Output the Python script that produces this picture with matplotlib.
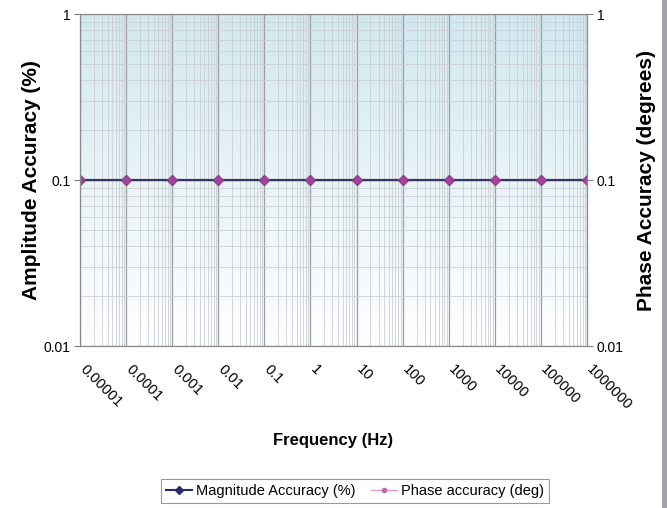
import numpy as np
import matplotlib.pyplot as plt
import matplotlib.transforms as mtransforms
from matplotlib.patches import Rectangle
from matplotlib.lines import Line2D
from matplotlib.ticker import LogLocator, NullFormatter

plt.rcParams['font.family'] = ['Liberation Sans', 'DejaVu Sans']

# data
freq = [1e-5, 1e-4, 1e-3, 1e-2, 1e-1, 1, 10, 100, 1000, 10000, 100000, 1000000]
freq_labels = ['0.00001', '0.0001', '0.001', '0.01', '0.1', '1', '10', '100',
               '1000', '10000', '100000', '1000000']
magnitude_acc = [0.1] * 12
phase_acc = [0.1] * 12

fig = plt.figure(figsize=(6.67, 5.08), dpi=100)
fig.patch.set_facecolor('white')
ax = fig.add_axes([80/667, 1 - 346/508, 507/667, 332/508])

# light blue -> white background gradient
grad = np.linspace(0, 1, 256).reshape(-1, 1)
top = np.array([0.82, 0.91, 0.94])
bot = np.array([1.0, 1.0, 1.0])
img = top[None, None, :] * (1 - grad[:, :, None]) + bot[None, None, :] * grad[:, :, None]
ax.imshow(img, extent=[0, 1, 0, 1], transform=ax.transAxes, aspect='auto', zorder=0)

ax.set_xscale('log')
ax.set_yscale('log')
ax.set_xlim(1e-5, 1e6)
ax.set_ylim(0.01, 1)

ax.xaxis.set_minor_locator(LogLocator(base=10, subs=np.arange(2, 10), numticks=200))
ax.xaxis.set_minor_formatter(NullFormatter())
ax.yaxis.set_minor_locator(LogLocator(base=10, subs=np.arange(2, 10), numticks=200))
ax.yaxis.set_minor_formatter(NullFormatter())

ax.grid(True, which='major', color='#9a9ea4', linewidth=0.9, zorder=1)
ax.grid(True, which='minor', color='#cbcfd4', linewidth=0.6, zorder=1)

ax.plot(freq, phase_acc, color='#d488bb', linewidth=1.0, zorder=3)
ax.plot(freq, magnitude_acc, color='#3a3560', linewidth=1.6, marker='D',
        markersize=5, markerfacecolor='#8a3c8c', markeredgecolor='#8a3c8c',
        label='Magnitude Accuracy (%)', zorder=4)
ax.plot(freq, phase_acc, color='#d488bb', linewidth=0, marker='o', markersize=4,
        markerfacecolor='#a0449c', markeredgecolor='#a0449c', zorder=5)

ax.set_xticks(freq)
ax.set_xticklabels(freq_labels, rotation=-45, ha='left', va='top',
                   rotation_mode='anchor', fontsize=10.5)
ax.tick_params(axis='x', which='both', length=0, pad=12)
shift = mtransforms.ScaledTranslation(7/100, 0, fig.dpi_scale_trans)
for lbl in ax.get_xticklabels():
    lbl.set_transform(lbl.get_transform() + shift)
ax.set_yticks([0.01, 0.1, 1])
ax.set_yticklabels(['0.01', '0.1', '1'], fontsize=10)
ax.tick_params(axis='y', which='major', length=4, color='#808080', pad=3)
ax.tick_params(axis='y', which='minor', length=0)

for s in ax.spines.values():
    s.set_color('#8a8a8a')

ax.set_ylabel('Amplitude Accuracy (%)', fontsize=15, fontweight='bold', labelpad=2)
ax.set_xlabel('Frequency (Hz)', fontsize=12, fontweight='bold', labelpad=14)

ax2 = ax.twinx()
ax2.set_yscale('log')
ax2.set_ylim(0.01, 1)
ax2.set_yticks([0.01, 0.1, 1])
ax2.set_yticklabels(['0.01', '0.1', '1'], fontsize=10)
ax2.yaxis.set_minor_locator(LogLocator(base=10, subs=np.arange(2, 10), numticks=200))
ax2.yaxis.set_minor_formatter(NullFormatter())
ax2.tick_params(axis='y', which='major', length=4, color='#808080', pad=3)
ax2.tick_params(axis='y', which='minor', length=0)
ax2.set_ylabel('Phase Accuracy (degrees)', fontsize=15, fontweight='bold', labelpad=10)
for s in ax2.spines.values():
    s.set_color('#8a8a8a')

# legend
handles = [Line2D([], [], color='#2a2a6a', linewidth=1.5, marker='D', markersize=4,
                  markerfacecolor='#2a2a6a', markeredgecolor='#2a2a6a'),
           Line2D([], [], color='#e0a0c8', linewidth=1.0, marker='o', markersize=3,
                  markerfacecolor='#c06aa8', markeredgecolor='#c06aa8')]
leg = fig.legend(handles, ['Magnitude Accuracy (%)', 'Phase accuracy (deg)'],
                 loc='center', bbox_to_anchor=(355/667, 1 - 491/508), ncol=2,
                 fontsize=10.5, frameon=True, fancybox=False, handlelength=1.8,
                 handletextpad=0.3, columnspacing=1.0, borderpad=0.35)
leg.get_frame().set_edgecolor('#808080')
leg.get_frame().set_linewidth(0.8)

# gray strip on right edge
fig.patches.append(Rectangle((662/667, 0), 5/667, 1, transform=fig.transFigure,
                             facecolor='#a3a3ab', edgecolor='none'))

fig.savefig('out.png', dpi=100)
